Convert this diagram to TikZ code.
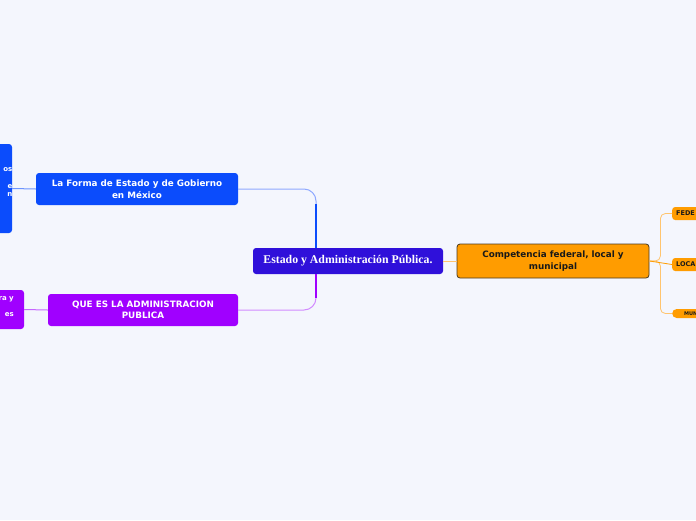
\documentclass[tikz,border=0pt]{standalone}
\usepackage{fontspec}
\usepackage{xcolor}
\usepackage{tikz}
\usetikzlibrary{arrows.meta,positioning,calc}

\newfontfamily\mapsans{DejaVu Sans}
\newfontfamily\mapserif{Liberation Serif}

\definecolor{bgc}{HTML}{F4F6FD}
\definecolor{azul}{HTML}{0B4CFC}
\definecolor{azulclaro}{HTML}{8FA9FF}
\definecolor{morado}{HTML}{A000FF}
\definecolor{moradoclaro}{HTML}{D28CFF}
\definecolor{indigo}{HTML}{2F10DA}
\definecolor{naranja}{HTML}{FF9C00}
\definecolor{naranjaclaro}{HTML}{FFC46E}
\definecolor{borde}{HTML}{4A3A20}

\begin{document}
\begin{tikzpicture}[
    x=1pt, y=-1pt,
    box/.style={rounded corners=3pt, inner sep=0pt, align=center,
                font=\mapsans\bfseries\fontsize{8.8}{11.5}\selectfont},
    central/.style={box, fill=indigo, text=white, minimum width=190, minimum height=26,
                font=\mapserif\bfseries\fontsize{11.8}{13}\selectfont},
    rama/.style={box, fill=azul, text=white, minimum height=32},
    ramamorada/.style={box, fill=morado, text=white, minimum height=32},
    competencia/.style={box, fill=naranja, draw=borde, thick, text=black!90, minimum height=34},
    hoja/.style={box, fill=naranja, text=black!90, anchor=west, minimum width=50,
                 minimum height=13, align=left, text width=44,
                 font=\mapsans\bfseries\fontsize{6.5}{7}\selectfont},
    frag/.style={box, text=white, font=\mapsans\bfseries\fontsize{7}{8.5}\selectfont, align=right},
    linea/.style={line width=1pt, rounded corners=12pt}
]

% --- fondo y recorte ---
\path[use as bounding box, fill=bgc] (0,0) rectangle (696,520);
\clip (0,0) rectangle (696,520);

% --- Nodo central ---
\node[central] (centro) at (348,261) {Estado y Administración Pública.};

% --- Ramas izquierdas ---
\node[rama, minimum width=202] (forma) at (137,189)
    {La Forma de Estado y de Gobierno\\en México};
\node[ramamorada, minimum width=190] (admin) at (143,310)
    {QUE ES LA ADMINISTRACION\\PUBLICA};

% --- Nodos cortados en el borde izquierdo ---
\node[frag, fill=azul, minimum width=32, minimum height=89] (formahijo) at (-4,188.5) {};
\node[frag, anchor=north east] (formatxt) at (12.5,167) {os\\[8.5pt]e\\n};
\node[frag, fill=morado, minimum width=44, minimum height=39] (adminhijo) at (2,309.5) {};
\node[frag, anchor=north east, font=\mapsans\bfseries\fontsize{7}{16}\selectfont] (admintxt) at (14,296) {ra y\\es};

% --- Competencia (derecha) ---
\node[competencia, minimum width=192] (compet) at (553,261)
    {Competencia federal, local y\\municipal};
\node[hoja] (fede) at (672,213.5) {\hspace*{1pt}FEDE};
\node[hoja] (loca) at (672,264.5) {\hspace*{1pt}LOCA};
\node[hoja, minimum height=9, rounded corners=4.5pt, text width=38,
      font=\mapsans\bfseries\fontsize{5}{6}\selectfont] (mun) at (672,313.5) {\hspace*{6pt}MUN};

% --- Conectores del centro ---
\draw[linea, azulclaro] (forma.east) -| ([xshift=-32]centro.north);
\draw[line width=1.6pt, azul] ([xshift=-32,yshift=44]centro.north) -- ([xshift=-32]centro.north);
\draw[linea, moradoclaro] (admin.east) -| ([xshift=-32]centro.south);
\draw[line width=1.6pt, morado] ([xshift=-32,yshift=-24]centro.south) -- ([xshift=-32]centro.south);
\draw[line width=0.8pt, naranjaclaro] (centro.east) -- (compet.west);

% --- Conectores a los nodos cortados ---
\draw[line width=1pt, azul!60] (formahijo.east) -- (forma.west);
\draw[line width=1pt, morado!60] (adminhijo.east) -- (admin.west);

% --- Conectores de competencia ---
\draw[line width=0.8pt, naranjaclaro, rounded corners=5pt] (compet.east) -- ++(11,0) |- (fede.west);
\draw[line width=0.8pt, naranjaclaro, rounded corners=5pt] (compet.east) -- ++(11,0) |- (mun.west);
\draw[line width=0.8pt, naranja] (compet.east) -- (loca.west);

\end{tikzpicture}
\end{document}
